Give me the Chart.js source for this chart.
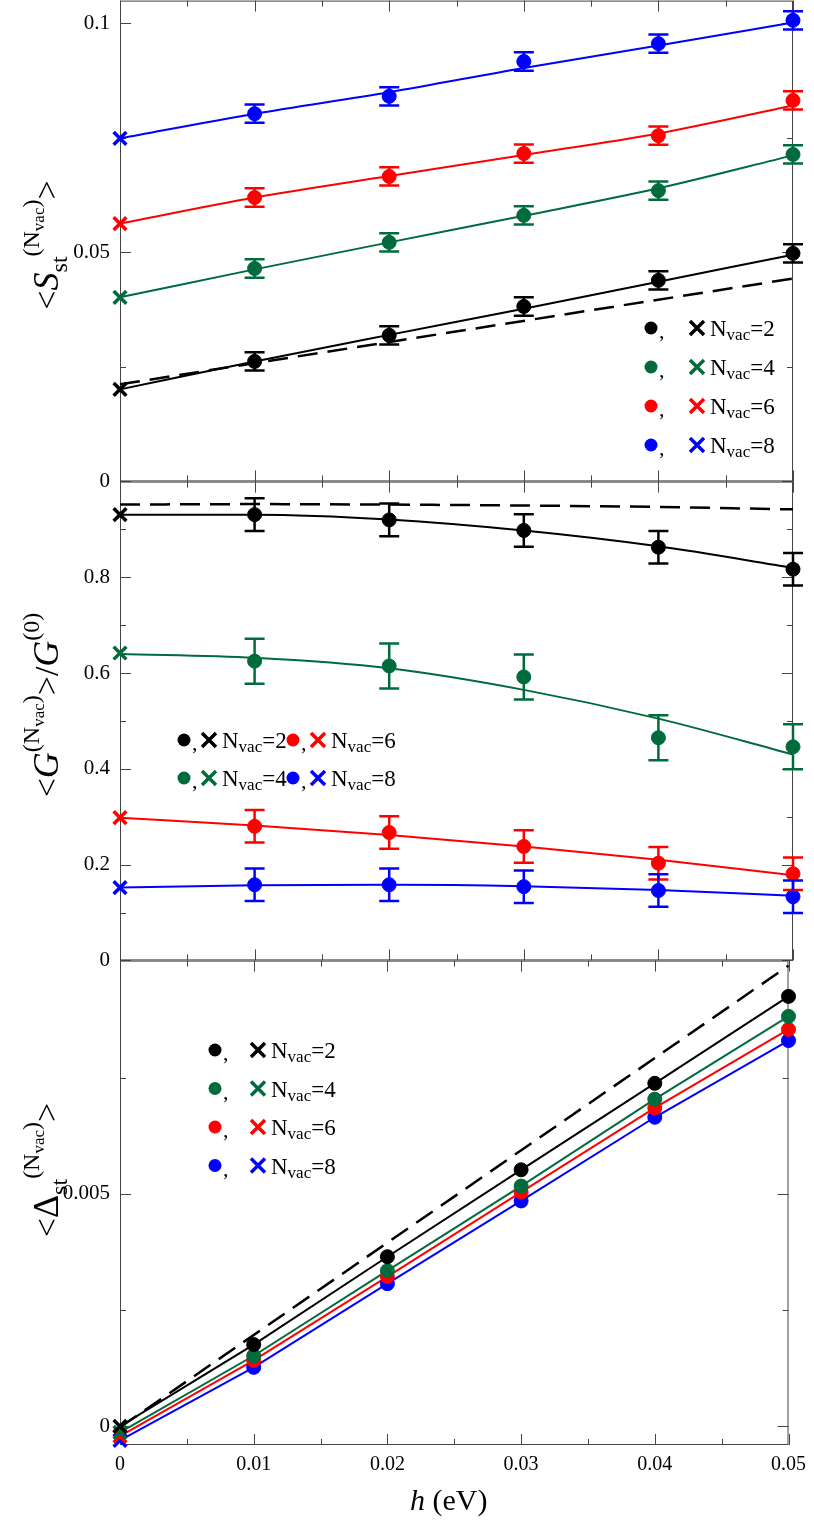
<!DOCTYPE html>
<html>
<head>
<meta charset="utf-8">
<script src="https://cdn.jsdelivr.net/npm/chart.js@4.4.0/dist/chart.umd.min.js"></script>
<style>
  body { margin: 0; background: #fff; overflow: hidden; }
  canvas { position: absolute; left: 0; }
</style>
</head>
<body>
<canvas id="p1" width="814" height="526" style="top:-22px"></canvas>
<canvas id="p2" width="814" height="524" style="top:459px"></canvas>
<canvas id="p3" width="814" height="582" style="top:938px"></canvas>
<script>
// h values (eV)
var hFit = [0, 0.01, 0.02, 0.03, 0.04, 0.05];
var hPts = [0.01, 0.02, 0.03, 0.04, 0.05];
var nvac = ['2', '4', '6', '8'];
var colors = ['#000000', '#006b3c', '#ff0000', '#0000ff'];

// panel 1: <S_st>
var sCross = [0.0201, 0.0402, 0.0563, 0.0749];
var sPts = [
  [0.0262, 0.0319, 0.0382, 0.0439, 0.0498],
  [0.0465, 0.0522, 0.0581, 0.0635, 0.0714],
  [0.0620, 0.0666, 0.0716, 0.0755, 0.0832],
  [0.0803, 0.0841, 0.0917, 0.0956, 0.1007]
];
var sErr = 0.002;
var sFit = [
  [0.0201, 0.0262, 0.0320, 0.0377, 0.0436, 0.0495],
  [0.0402, 0.0463, 0.0522, 0.0580, 0.0640, 0.0712],
  [0.0563, 0.0620, 0.0667, 0.0713, 0.0760, 0.0821],
  [0.0749, 0.0803, 0.0850, 0.0903, 0.0952, 0.1002]
];
var sDashX = [0, 0.05];
var sDash = [0.0212, 0.0443];

// panel 2: <G>/G0
var gCross = [0.931, 0.642, 0.298, 0.152];
var gPts = [
  [0.931, 0.920, 0.898, 0.863, 0.817],
  [0.625, 0.615, 0.592, 0.465, 0.446],
  [0.280, 0.267, 0.238, 0.203, 0.181],
  [0.158, 0.158, 0.154, 0.146, 0.133]
];
var gErr = [0.034, 0.047, 0.034, 0.034];
var gFit = [
  [0.931, 0.931, 0.921, 0.898, 0.865, 0.820],
  [0.640, 0.632, 0.610, 0.565, 0.505, 0.430],
  [0.298, 0.282, 0.262, 0.238, 0.210, 0.178],
  [0.152, 0.157, 0.158, 0.155, 0.147, 0.135]
];
var gDash = [0.952, 0.953, 0.952, 0.950, 0.947, 0.942];

// panel 3: <Delta_st>
var dCross = [0.0, -0.00013, -0.00021, -0.0003];
var dPts = [
  [0.00176, 0.00365, 0.00552, 0.00738, 0.00925],
  [0.00152, 0.00335, 0.00517, 0.00704, 0.00882],
  [0.00142, 0.00322, 0.00504, 0.00685, 0.00854],
  [0.00127, 0.00307, 0.00485, 0.00665, 0.00830]
];
var dDashX = [0, 0.05];
var dDash = [-0.00002, 0.00991];

var xTicks = [0, 0.01, 0.02, 0.03, 0.04, 0.05];
var xTickLabels = ['0', '0.01', '0.02', '0.03', '0.04', '0.05'];
var xMinor = [0.005, 0.015, 0.025, 0.035, 0.045];

var FONT = '"Liberation Serif", "DejaVu Serif", serif';

function pairs(xs, ys) { return xs.map(function (x, i) { return { x: x, y: ys[i] }; }); }

function buildSets(cross, pts, fit, err, dashX, dash, mode) {
  var sets = [];
  for (var i = 0; i < 4; i++) {
    sets.push({ data: pairs(hFit, fit[i]), showLine: true, borderColor: colors[i], borderWidth: 2,
      pointRadius: 0, cubicInterpolationMode: mode, clip: false, order: 3 });
    sets.push({ data: pairs(hPts, pts[i]), pointRadius: 7, pointStyle: 'circle',
      backgroundColor: colors[i], borderColor: colors[i], err: err ? (Array.isArray(err) ? err[i] : err) : 0,
      clip: false, order: 1 });
    sets.push({ data: [{ x: 0, y: cross[i] }], pointRadius: 9, pointStyle: 'crossRot',
      borderColor: colors[i], borderWidth: 3.5, clip: false, order: 0 });
  }
  sets.push({ data: pairs(dashX, dash), showLine: true, borderColor: '#000', borderWidth: 2.5,
    borderDash: [20, 10], pointRadius: 0, cubicInterpolationMode: mode, clip: false, order: 2 });
  return sets;
}

var errorBars = {
  id: 'errorBars',
  afterDatasetsDraw: function (chart) {
    var ctx = chart.ctx, ys = chart.scales.y;
    chart.data.datasets.forEach(function (ds, di) {
      if (!ds.err) return;
      var meta = chart.getDatasetMeta(di);
      ctx.save();
      ctx.strokeStyle = ds.borderColor; ctx.lineWidth = 2.5;
      meta.data.forEach(function (pt, j) {
        var v = ds.data[j].y;
        var y1 = ys.getPixelForValue(v - ds.err), y2 = ys.getPixelForValue(v + ds.err);
        ctx.beginPath();
        ctx.moveTo(pt.x, y1); ctx.lineTo(pt.x, y2);
        ctx.moveTo(pt.x - 10, y1); ctx.lineTo(pt.x + 10, y1);
        ctx.moveTo(pt.x - 10, y2); ctx.lineTo(pt.x + 10, y2);
        ctx.stroke();
      });
      ctx.restore();
    });
  }
};

var frame = {
  id: 'frame',
  beforeDatasetsDraw: function (chart, args, o) {
    var ctx = chart.ctx, a = chart.chartArea, xs = chart.scales.x, ys = chart.scales.y;
    ctx.save();
    ctx.strokeStyle = '#444'; ctx.lineWidth = 1;
    ctx.strokeRect(a.left + 0.5, a.top + 0.5, a.right - a.left - 1, a.bottom - a.top - 1);
    ctx.beginPath();
    function yt(v, len) {
      var p = Math.round(ys.getPixelForValue(v)) + 0.5;
      ctx.moveTo(a.left, p); ctx.lineTo(a.left + len, p);
      ctx.moveTo(a.right, p); ctx.lineTo(a.right - len, p);
    }
    function xt(v, len) {
      var p = Math.round(xs.getPixelForValue(v)) + 0.5;
      ctx.moveTo(p, a.bottom); ctx.lineTo(p, a.bottom - len);
      ctx.moveTo(p, a.top); ctx.lineTo(p, a.top + len);
    }
    o.yMajor.forEach(function (v) { yt(v, 11); });
    o.yMinor.forEach(function (v) { yt(v, 6); });
    xTicks.forEach(function (v) { xt(v, 11); });
    xMinor.forEach(function (v) { xt(v, 6); });
    ctx.stroke();
    ctx.restore();
  }
};

// rich text: segments [text, size, dy, italic]
function rich(ctx, segs, x, y, rotate) {
  ctx.save();
  ctx.translate(x, y);
  if (rotate) ctx.rotate(-Math.PI / 2);
  var w = 0;
  segs.forEach(function (s) {
    ctx.font = (s[3] ? 'italic ' : '') + s[1] + 'px ' + FONT;
    s.w = ctx.measureText(s[0]).width + (s[4] || 0);
    w += s.w;
  });
  var cx = rotate ? -w / 2 : 0;
  ctx.fillStyle = '#000'; ctx.textBaseline = 'alphabetic';
  segs.forEach(function (s) {
    ctx.font = (s[3] ? 'italic ' : '') + s[1] + 'px ' + FONT;
    ctx.fillText(s[0], cx, s[2]);
    cx += s.w;
  });
  ctx.restore();
}

function legendEntry(ctx, i, cx, cy, crossX) {
  ctx.save();
  ctx.fillStyle = colors[i];
  ctx.beginPath(); ctx.arc(cx, cy, 6.5, 0, Math.PI * 2); ctx.fill();
  ctx.strokeStyle = colors[i]; ctx.lineWidth = 3.5;
  ctx.beginPath();
  ctx.moveTo(crossX - 7, cy - 7); ctx.lineTo(crossX + 7, cy + 7);
  ctx.moveTo(crossX + 7, cy - 7); ctx.lineTo(crossX - 7, cy + 7);
  ctx.stroke();
  ctx.restore();
  rich(ctx, [[',', 22, 0]], cx + 8, cy + 10);
  rich(ctx, [['N', 23, 0], ['vac', 17, 4], ['=' + nvac[i], 23, 0]], crossX + 13, cy + 8);
}

// decorations are drawn in page coordinates
var decor = {
  id: 'decor',
  afterDraw: function (chart, args, o) {
    var ctx = chart.ctx;
    ctx.save();
    ctx.translate(0, -o.top);
    o.fn(ctx);
    ctx.restore();
  }
};

function makePanel(id, top, sets, yMin, yMax, yLabVals, yMajor, yMinor, showX, decorFn, xHeight) {
  return new Chart(document.getElementById(id), {
    type: 'scatter',
    data: { datasets: sets },
    plugins: [frame, errorBars, decor],
    options: {
      responsive: false, animation: false, events: [],
      layout: { padding: { top: 0, right: 21, bottom: 0, left: 0 } },
      plugins: {
        legend: { display: false }, tooltip: { enabled: false },
        frame: { yMajor: yMajor, yMinor: yMinor },
        decor: { fn: decorFn, top: top }
      },
      scales: {
        x: {
          type: 'linear', min: 0, max: 0.05, display: showX,
          grid: { display: false, drawTicks: false }, border: { display: false },
          afterBuildTicks: function (s) { s.ticks = xTicks.map(function (v) { return { value: v }; }); },
          afterFit: function (s) { if (showX) s.height = xHeight; },
          ticks: { padding: 8, color: '#000', font: { family: FONT, size: 20 },
            callback: function (v, i) { return xTickLabels[i]; } }
        },
        y: {
          type: 'linear', min: yMin, max: yMax,
          grid: { display: false, drawTicks: false }, border: { display: false },
          afterBuildTicks: function (s) { s.ticks = yLabVals.map(function (v) { return { value: v[0] }; }); },
          afterFit: function (s) { s.width = 120; },
          ticks: { padding: 10, color: '#000', font: { family: FONT, size: 21 },
            callback: function (v, i) { return yLabVals[i][1]; } }
        }
      }
    }
  });
}

makePanel('p1', -22, buildSets(sCross, sPts, sFit, sErr, sDashX, sDash, 'monotone'),
  0, 0.105, [[0, '0'], [0.05, '0.05'], [0.1, '0.1']], [0, 0.05, 0.1], [0.025, 0.075], false,
  function (ctx) {
    rich(ctx, [['<', 34, 0], ['S', 36, 0, true], ['st', 24, 9], ['(N', 24, -19], ['vac', 17, -14], [')', 24, -19], ['>', 34, 0]], 58, 245, true);
    for (var i = 0; i < 4; i++) legendEntry(ctx, i, 651, 328 + i * 39, 697);
  });

makePanel('p2', 459, buildSets(gCross, gPts, gFit, gErr, hFit, gDash, 'monotone'),
  0, 1.0, [[0, '0'], [0.2, '0.2'], [0.4, '0.4'], [0.6, '0.6'], [0.8, '0.8']],
  [0, 0.2, 0.4, 0.6, 0.8], [0.1, 0.3, 0.5, 0.7, 0.9], false,
  function (ctx) {
    rich(ctx, [['<', 34, 0], ['G', 36, 0, true], ['(N', 24, -19], ['vac', 17, -14], [')', 24, -19], ['>/', 34, 0], ['G', 36, 0, true], ['(0)', 24, -19]], 58, 705, true);
    legendEntry(ctx, 0, 184, 740, 209);
    legendEntry(ctx, 1, 184, 778, 209);
    legendEntry(ctx, 2, 293, 740, 318);
    legendEntry(ctx, 3, 293, 778, 318);
  });

makePanel('p3', 938, buildSets(dCross, dPts, [
    [dCross[0]].concat(dPts[0]), [dCross[1]].concat(dPts[1]),
    [dCross[2]].concat(dPts[2]), [dCross[3]].concat(dPts[3])
  ], 0, dDashX, dDash, 'default'),
  -0.0004, 0.01002, [[0, '0'], [0.005, '0.005']], [0, 0.005], [0.0025, 0.0075], true,
  function (ctx) {
    rich(ctx, [['<', 34, 0], ['Δ', 36, 0], ['st', 24, 9], ['(N', 24, -19], ['vac', 17, -14], [')', 24, -19], ['>', 34, 0]], 58, 1170, true);
    for (var i = 0; i < 4; i++) legendEntry(ctx, i, 215, 1050 + i * 38.5, 258);
    rich(ctx, [['h', 30, 0, true], [' (eV)', 30, 0]], 410, 1510);
  }, 75);
</script>
</body>
</html>
